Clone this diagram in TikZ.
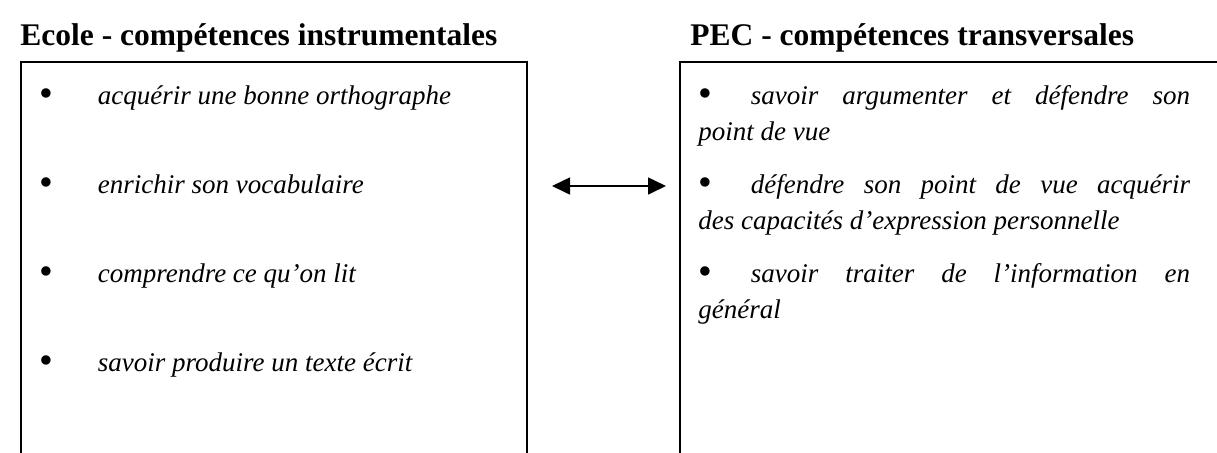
\documentclass[tikz,border=0pt]{standalone}
\usepackage{fontspec}
\setmainfont{Liberation Serif}
\usetikzlibrary{arrows.meta}
\tikzset{
  frame/.style={line width=0.9pt, line cap=rect},
  title/.style={anchor=base west, inner sep=0pt, font=\fontsize{14}{16}\selectfont\bfseries},
  item/.style={anchor=base west, inner sep=0pt, font=\fontsize{12}{16}\selectfont\itshape},
  link/.style={line width=0.9pt, {Triangle[length=8pt,width=7.5pt]}-{Triangle[length=8pt,width=7.5pt]}}
}
\newcommand{\bul}{\raisebox{-1.3pt}{\upshape\fontsize{17.5}{16}\selectfont\textbullet}}
\begin{document}
\begin{tikzpicture}[x=0.4444pt, y=-0.4444pt]
\useasboundingbox (0,0) rectangle (1217,452);
% titles
\node[title] (t1) at (20,45) {Ecole - compétences instrumentales};
\node[title] (t2) at (690,45) {PEC - compétences transversales};
% boxes (open at the bottom / right)
\draw[frame] (21,460) -- (21,62) -- (527,62) -- (527,460);
\draw[frame] (680,460) -- (680,62) -- (1225,62);
% left items
\node[item] (l1) at (39,104) {\bul\hspace{19.8pt}acquérir une bonne orthographe};
\node[item] (l2) at (39,193) {\bul\hspace{19.8pt}enrichir son vocabulaire};
\node[item] (l3) at (39,282) {\bul\hspace{19.8pt}comprendre ce qu’on lit};
\node[item] (l4) at (39,371) {\bul\hspace{19.8pt}savoir produire un texte écrit};
% right items
\node[item] (r1a) at (698,104) {\makebox[218.5pt][s]{\bul\hspace{17.2pt}savoir argumenter et défendre son}};
\node[item] (r1b) at (698,140) {point de vue};
\node[item] (r2a) at (698,193) {\makebox[218.5pt][s]{\bul\hspace{17.2pt}défendre son point de vue acquérir}};
\node[item] (r2b) at (698,229) {des capacités d’expression personnelle};
\node[item] (r3a) at (698,282) {\makebox[218.5pt][s]{\bul\hspace{17.2pt}savoir traiter de l’information en}};
\node[item] (r3b) at (698,318) {général};
% arrow
\coordinate (aL) at (552,186);
\coordinate (aR) at (666,186);
\draw[link] (aL) -- (aR);
\end{tikzpicture}
\end{document}
